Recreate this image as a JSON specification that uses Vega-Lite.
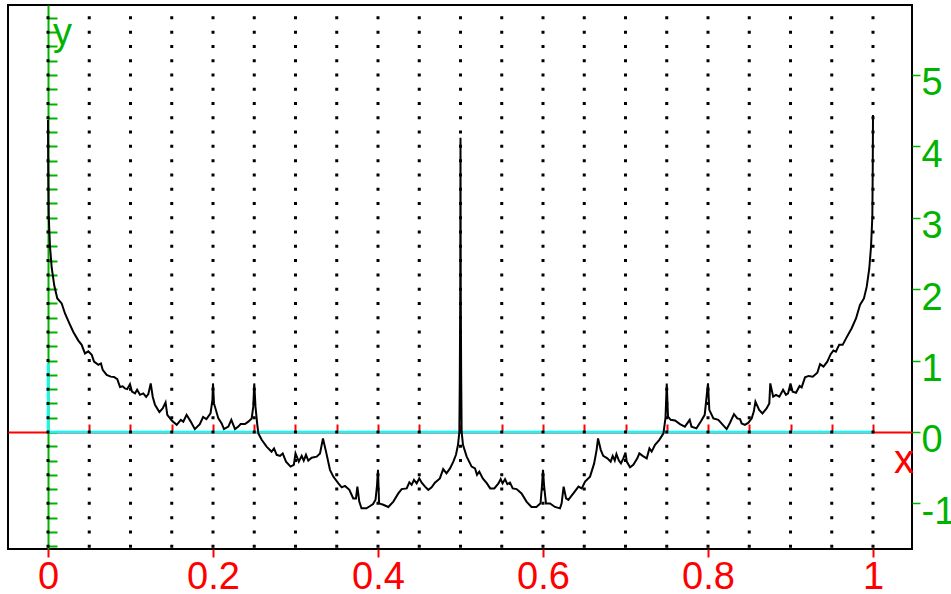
{
  "$schema": "https://vega.github.io/schema/vega-lite/v6.json",
  "width": 904,
  "height": 544,
  "autosize": "none",
  "padding": {"left": 8, "top": 5, "right": 39, "bottom": 45},
  "background": "white",
  "config": {
    "view": {"stroke": "#000000", "strokeWidth": 2},
    "axis": {"labelFont": "Liberation Sans", "grid": false, "title": null, "zindex": 0}
  },
  "datasets": {
    "one": [{"k": 1}],
    "gridx": [
      {"g": 0}, {"g": 0.05}, {"g": 0.1}, {"g": 0.15}, {"g": 0.2}, {"g": 0.25}, {"g": 0.3},
      {"g": 0.35}, {"g": 0.4}, {"g": 0.45}, {"g": 0.5}, {"g": 0.55}, {"g": 0.6}, {"g": 0.65},
      {"g": 0.7}, {"g": 0.75}, {"g": 0.8}, {"g": 0.85}, {"g": 0.9}, {"g": 0.95}, {"g": 1}
    ],
    "curve": [
      {"x": 0, "y": 4.37}, {"x": 0.0003, "y": 3.65}, {"x": 0.0008, "y": 3.05}, {"x": 0.0024, "y": 2.6},
      {"x": 0.0045, "y": 2.3}, {"x": 0.0076, "y": 2.05}, {"x": 0.0113, "y": 1.87}, {"x": 0.0166, "y": 1.8},
      {"x": 0.0206, "y": 1.66}, {"x": 0.0259, "y": 1.52}, {"x": 0.0307, "y": 1.4}, {"x": 0.0368, "y": 1.28},
      {"x": 0.0408, "y": 1.22}, {"x": 0.0448, "y": 1.1}, {"x": 0.0489, "y": 1.13}, {"x": 0.053, "y": 1.08},
      {"x": 0.0558, "y": 0.985}, {"x": 0.061, "y": 0.94}, {"x": 0.0642, "y": 0.96}, {"x": 0.0663, "y": 0.87},
      {"x": 0.0711, "y": 0.8}, {"x": 0.076, "y": 0.775}, {"x": 0.08, "y": 0.77}, {"x": 0.084, "y": 0.74},
      {"x": 0.0873, "y": 0.63}, {"x": 0.0905, "y": 0.64}, {"x": 0.0933, "y": 0.61}, {"x": 0.096, "y": 0.6},
      {"x": 0.0994, "y": 0.67}, {"x": 0.1018, "y": 0.565}, {"x": 0.1055, "y": 0.54}, {"x": 0.108, "y": 0.59},
      {"x": 0.1115, "y": 0.52}, {"x": 0.1155, "y": 0.54}, {"x": 0.119, "y": 0.49}, {"x": 0.1216, "y": 0.53},
      {"x": 0.1245, "y": 0.68}, {"x": 0.127, "y": 0.49}, {"x": 0.1297, "y": 0.38}, {"x": 0.135, "y": 0.28},
      {"x": 0.139, "y": 0.33}, {"x": 0.1425, "y": 0.415}, {"x": 0.1446, "y": 0.24}, {"x": 0.15, "y": 0.16},
      {"x": 0.156, "y": 0.1}, {"x": 0.161, "y": 0.17}, {"x": 0.164, "y": 0.145}, {"x": 0.168, "y": 0.24},
      {"x": 0.173, "y": 0.145}, {"x": 0.178, "y": 0.04}, {"x": 0.184, "y": 0.11}, {"x": 0.188, "y": 0.21},
      {"x": 0.192, "y": 0.18}, {"x": 0.197, "y": 0.26}, {"x": 0.1993, "y": 0.45}, {"x": 0.2, "y": 0.68},
      {"x": 0.2012, "y": 0.4}, {"x": 0.2065, "y": 0.19}, {"x": 0.2105, "y": 0.12}, {"x": 0.2133, "y": 0.04},
      {"x": 0.2186, "y": 0.075}, {"x": 0.2222, "y": 0.17}, {"x": 0.2267, "y": 0.04}, {"x": 0.2307, "y": 0.075},
      {"x": 0.2335, "y": 0.11}, {"x": 0.2388, "y": 0.11}, {"x": 0.2428, "y": 0.145}, {"x": 0.2469, "y": 0.19},
      {"x": 0.2488, "y": 0.355}, {"x": 0.25, "y": 0.68}, {"x": 0.2515, "y": 0.355}, {"x": 0.2537, "y": 0.1},
      {"x": 0.255, "y": -0.02}, {"x": 0.259, "y": -0.11}, {"x": 0.265, "y": -0.205}, {"x": 0.271, "y": -0.275},
      {"x": 0.274, "y": -0.23}, {"x": 0.2772, "y": -0.32}, {"x": 0.2812, "y": -0.335}, {"x": 0.2845, "y": -0.3},
      {"x": 0.2885, "y": -0.415}, {"x": 0.294, "y": -0.485}, {"x": 0.298, "y": -0.46}, {"x": 0.3, "y": -0.3},
      {"x": 0.304, "y": -0.415}, {"x": 0.3075, "y": -0.335}, {"x": 0.31, "y": -0.4}, {"x": 0.3127, "y": -0.32},
      {"x": 0.3155, "y": -0.4}, {"x": 0.3196, "y": -0.36}, {"x": 0.3257, "y": -0.345}, {"x": 0.3297, "y": -0.3},
      {"x": 0.3333, "y": -0.09}, {"x": 0.337, "y": -0.275}, {"x": 0.3418, "y": -0.53}, {"x": 0.3458, "y": -0.625},
      {"x": 0.352, "y": -0.72}, {"x": 0.356, "y": -0.775}, {"x": 0.36, "y": -0.755}, {"x": 0.3653, "y": -0.81},
      {"x": 0.37, "y": -0.93}, {"x": 0.3733, "y": -0.93}, {"x": 0.375, "y": -0.765}, {"x": 0.3773, "y": -0.975},
      {"x": 0.38, "y": -1.07}, {"x": 0.386, "y": -1.07}, {"x": 0.39, "y": -1.04}, {"x": 0.394, "y": -1.01},
      {"x": 0.397, "y": -0.95}, {"x": 0.3988, "y": -0.75}, {"x": 0.4, "y": -0.53}, {"x": 0.4013, "y": -1.0},
      {"x": 0.4064, "y": -1.02}, {"x": 0.4125, "y": -1.05}, {"x": 0.4186, "y": -0.975}, {"x": 0.4246, "y": -0.86},
      {"x": 0.4287, "y": -0.8}, {"x": 0.4348, "y": -0.79}, {"x": 0.438, "y": -0.705}, {"x": 0.4408, "y": -0.74},
      {"x": 0.4436, "y": -0.67}, {"x": 0.4469, "y": -0.72}, {"x": 0.45, "y": -0.65}, {"x": 0.453, "y": -0.71},
      {"x": 0.457, "y": -0.765}, {"x": 0.461, "y": -0.81}, {"x": 0.465, "y": -0.775}, {"x": 0.469, "y": -0.71},
      {"x": 0.475, "y": -0.65}, {"x": 0.479, "y": -0.52}, {"x": 0.483, "y": -0.58}, {"x": 0.4873, "y": -0.51},
      {"x": 0.4913, "y": -0.415}, {"x": 0.4945, "y": -0.32}, {"x": 0.497, "y": -0.18}, {"x": 0.4986, "y": 0.0},
      {"x": 0.4992, "y": 0.8}, {"x": 0.4997, "y": 2.0}, {"x": 0.5, "y": 4.12}, {"x": 0.5003, "y": 2.0},
      {"x": 0.5008, "y": 0.8}, {"x": 0.5014, "y": 0.0}, {"x": 0.503, "y": -0.18}, {"x": 0.5075, "y": -0.345},
      {"x": 0.5135, "y": -0.485}, {"x": 0.5176, "y": -0.51}, {"x": 0.52, "y": -0.6}, {"x": 0.5228, "y": -0.555},
      {"x": 0.527, "y": -0.65}, {"x": 0.532, "y": -0.72}, {"x": 0.536, "y": -0.79}, {"x": 0.541, "y": -0.79},
      {"x": 0.546, "y": -0.72}, {"x": 0.5487, "y": -0.66}, {"x": 0.551, "y": -0.72}, {"x": 0.554, "y": -0.66},
      {"x": 0.5568, "y": -0.73}, {"x": 0.56, "y": -0.71}, {"x": 0.5633, "y": -0.79}, {"x": 0.568, "y": -0.8},
      {"x": 0.574, "y": -0.86}, {"x": 0.58, "y": -0.975}, {"x": 0.586, "y": -1.05}, {"x": 0.592, "y": -1.05},
      {"x": 0.597, "y": -1.0}, {"x": 0.5988, "y": -0.75}, {"x": 0.6, "y": -0.53}, {"x": 0.6013, "y": -0.75},
      {"x": 0.6036, "y": -1.0}, {"x": 0.6085, "y": -1.0}, {"x": 0.6145, "y": -1.05}, {"x": 0.6206, "y": -1.07},
      {"x": 0.6226, "y": -1.0}, {"x": 0.625, "y": -0.765}, {"x": 0.628, "y": -0.93}, {"x": 0.6307, "y": -0.95},
      {"x": 0.6368, "y": -0.86}, {"x": 0.643, "y": -0.765}, {"x": 0.647, "y": -0.79}, {"x": 0.651, "y": -0.695},
      {"x": 0.657, "y": -0.625}, {"x": 0.662, "y": -0.44}, {"x": 0.665, "y": -0.25}, {"x": 0.6667, "y": -0.09},
      {"x": 0.67, "y": -0.25}, {"x": 0.673, "y": -0.335}, {"x": 0.678, "y": -0.37}, {"x": 0.682, "y": -0.415},
      {"x": 0.6845, "y": -0.335}, {"x": 0.687, "y": -0.4}, {"x": 0.689, "y": -0.31}, {"x": 0.692, "y": -0.4},
      {"x": 0.6945, "y": -0.44}, {"x": 0.6974, "y": -0.37}, {"x": 0.7, "y": -0.29}, {"x": 0.7015, "y": -0.415},
      {"x": 0.7055, "y": -0.495}, {"x": 0.7095, "y": -0.46}, {"x": 0.7143, "y": -0.37}, {"x": 0.7168, "y": -0.3},
      {"x": 0.7208, "y": -0.335}, {"x": 0.7257, "y": -0.37}, {"x": 0.729, "y": -0.23}, {"x": 0.7317, "y": -0.275},
      {"x": 0.7358, "y": -0.18}, {"x": 0.741, "y": -0.11}, {"x": 0.746, "y": -0.02}, {"x": 0.7485, "y": 0.2},
      {"x": 0.75, "y": 0.68}, {"x": 0.7515, "y": 0.215}, {"x": 0.7548, "y": 0.17}, {"x": 0.76, "y": 0.16},
      {"x": 0.766, "y": 0.11}, {"x": 0.772, "y": 0.075}, {"x": 0.7778, "y": 0.17}, {"x": 0.78, "y": 0.075},
      {"x": 0.786, "y": 0.05}, {"x": 0.792, "y": 0.16}, {"x": 0.796, "y": 0.24}, {"x": 0.8, "y": 0.68},
      {"x": 0.8016, "y": 0.31}, {"x": 0.8065, "y": 0.19}, {"x": 0.8125, "y": 0.17}, {"x": 0.818, "y": 0.1},
      {"x": 0.8226, "y": 0.04}, {"x": 0.8267, "y": 0.13}, {"x": 0.8315, "y": 0.25}, {"x": 0.8355, "y": 0.19},
      {"x": 0.8388, "y": 0.18}, {"x": 0.8408, "y": 0.12}, {"x": 0.8448, "y": 0.1}, {"x": 0.849, "y": 0.13},
      {"x": 0.853, "y": 0.19}, {"x": 0.8555, "y": 0.285}, {"x": 0.8575, "y": 0.425}, {"x": 0.862, "y": 0.31},
      {"x": 0.866, "y": 0.26}, {"x": 0.871, "y": 0.33}, {"x": 0.8743, "y": 0.4}, {"x": 0.8755, "y": 0.68},
      {"x": 0.879, "y": 0.495}, {"x": 0.8824, "y": 0.52}, {"x": 0.8865, "y": 0.495}, {"x": 0.891, "y": 0.59},
      {"x": 0.8945, "y": 0.52}, {"x": 0.897, "y": 0.54}, {"x": 0.9, "y": 0.68}, {"x": 0.9026, "y": 0.565},
      {"x": 0.9067, "y": 0.55}, {"x": 0.911, "y": 0.645}, {"x": 0.9135, "y": 0.625}, {"x": 0.9176, "y": 0.765},
      {"x": 0.922, "y": 0.785}, {"x": 0.927, "y": 0.775}, {"x": 0.9325, "y": 0.83}, {"x": 0.9358, "y": 0.95},
      {"x": 0.94, "y": 0.915}, {"x": 0.9446, "y": 0.985}, {"x": 0.9487, "y": 1.09}, {"x": 0.952, "y": 1.14},
      {"x": 0.955, "y": 1.125}, {"x": 0.959, "y": 1.22}, {"x": 0.9632, "y": 1.22}, {"x": 0.968, "y": 1.325},
      {"x": 0.974, "y": 1.45}, {"x": 0.9794, "y": 1.59}, {"x": 0.9842, "y": 1.78}, {"x": 0.989, "y": 1.87},
      {"x": 0.9924, "y": 2.035}, {"x": 0.9955, "y": 2.29}, {"x": 0.9976, "y": 2.595}, {"x": 0.9992, "y": 3.015},
      {"x": 0.9997, "y": 3.7}, {"x": 1.0, "y": 4.44}
    ]
  },
  "resolve": {"axis": {"x": "independent", "y": "independent"}},
  "layer": [
    {
      "data": {"name": "one"},
      "mark": {"type": "rule", "color": "#00ffff", "strokeWidth": 2.5},
      "encoding": {
        "x": {
          "datum": 0, "type": "quantitative",
          "scale": {"domain": [-0.04848, 1.04727], "nice": false, "zero": false},
          "axis": {
            "orient": "bottom", "offset": -117, "zindex": 0,
            "values": [0.05, 0.1, 0.15, 0.2, 0.25, 0.3, 0.35, 0.4, 0.45, 0.5, 0.55, 0.6, 0.65, 0.7, 0.75, 0.8, 0.85, 0.9, 0.95, 1],
            "labels": false, "tickSize": -8, "tickWidth": 2, "tickColor": "#ff0000",
            "domainColor": "#ff0000", "domainWidth": 2
          }
        },
        "x2": {"datum": 1},
        "y": {
          "datum": 0, "type": "quantitative",
          "scale": {"domain": [-1.639, 5.98], "nice": false, "zero": false},
          "axis": {
            "orient": "left", "offset": -40, "zindex": 0,
            "values": [-1.6, -1.4, -1.2, -1, -0.8, -0.6, -0.4, -0.2, 0, 0.2, 0.4, 0.6, 0.8, 1, 1.2, 1.4, 1.6, 1.8, 2, 2.2, 2.4, 2.6, 2.8, 3, 3.2, 3.4, 3.6, 3.8, 4, 4.2, 4.4, 4.6, 4.8, 5, 5.2, 5.4, 5.6, 5.8],
            "labels": false, "tickSize": -9, "tickWidth": 2, "tickColor": "#00b300",
            "domainColor": "#00b300", "domainWidth": 2
          }
        }
      }
    },
    {
      "data": {"name": "one"},
      "mark": {"type": "rule", "color": "#00ffff", "strokeWidth": 2.5},
      "encoding": {
        "x": {"datum": 0, "type": "quantitative", "scale": {"domain": [-0.04848, 1.04727], "nice": false, "zero": false}, "axis": null},
        "y": {"datum": 0, "type": "quantitative", "scale": {"domain": [-1.639, 5.98], "nice": false, "zero": false}, "axis": null},
        "y2": {"datum": 0.96}
      }
    },
    {
      "data": {"name": "gridx"},
      "mark": {"type": "rule", "color": "#000000", "strokeWidth": 3, "strokeDash": [3, 11.28], "strokeCap": "butt"},
      "encoding": {
        "x": {"field": "g", "type": "quantitative", "scale": {"domain": [-0.04848, 1.04727], "nice": false, "zero": false}, "axis": null},
        "y": {"datum": -1.621, "type": "quantitative", "scale": {"domain": [-1.639, 5.98], "nice": false, "zero": false}, "axis": null},
        "y2": {"datum": 5.98}
      }
    },
    {
      "data": {"name": "curve"},
      "mark": {"type": "line", "color": "#000000", "strokeWidth": 2},
      "encoding": {
        "x": {
          "field": "x", "type": "quantitative",
          "scale": {"domain": [-0.04848, 1.04727], "nice": false, "zero": false},
          "axis": {
            "orient": "bottom", "values": [0, 0.2, 0.4, 0.6, 0.8, 1], "format": "~g",
            "labelColor": "#ff0000", "labelFontSize": 38, "labelPadding": 1,
            "labelFlush": false, "labelOverlap": false,
            "tickColor": "#ff0000", "tickSize": 8, "tickWidth": 2, "domain": false
          }
        },
        "y": {
          "field": "y", "type": "quantitative",
          "scale": {"domain": [-1.639, 5.98], "nice": false, "zero": false},
          "axis": {
            "orient": "right", "values": [-1, 0, 1, 2, 3, 4, 5],
            "labelExpr": "datum.value < 0 ? '-' + abs(datum.value) : '' + datum.value",
            "labelColor": "#00b300", "labelFontSize": 38, "labelPadding": 1, "labelOffset": 9,
            "labelFlush": false, "labelOverlap": false,
            "tickColor": "#00b300", "tickSize": 8, "tickWidth": 1.5, "domain": false
          }
        }
      }
    },
    {
      "data": {"name": "one"},
      "mark": {"type": "text", "text": "y", "color": "#00b300", "font": "Liberation Sans", "fontSize": 38, "align": "left", "baseline": "alphabetic"},
      "encoding": {
        "x": {"datum": 0.006, "type": "quantitative", "scale": {"domain": [-0.04848, 1.04727], "nice": false, "zero": false}, "axis": null},
        "y": {"datum": 5.42, "type": "quantitative", "scale": {"domain": [-1.639, 5.98], "nice": false, "zero": false}, "axis": null}
      }
    },
    {
      "data": {"name": "one"},
      "mark": {"type": "text", "text": "x", "color": "#ff0000", "font": "Liberation Sans", "fontSize": 40, "align": "center", "baseline": "alphabetic"},
      "encoding": {
        "x": {"datum": 1.0376, "type": "quantitative", "scale": {"domain": [-0.04848, 1.04727], "nice": false, "zero": false}, "axis": null},
        "y": {"datum": -0.57, "type": "quantitative", "scale": {"domain": [-1.639, 5.98], "nice": false, "zero": false}, "axis": null}
      }
    }
  ]
}
